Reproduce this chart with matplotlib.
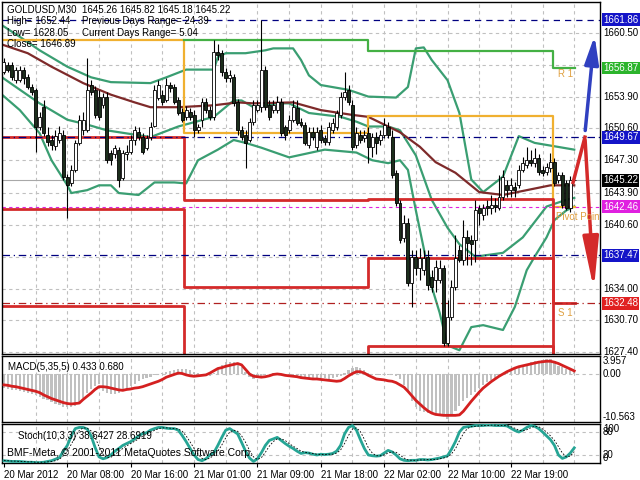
import matplotlib
matplotlib.use('Agg')
import matplotlib.pyplot as plt
import numpy as np

plt.rcParams['font.family'] = ['Liberation Sans', 'DejaVu Sans']
plt.rcParams['font.size'] = 7

# GOLDUSD M30 candles (one per bar)
opens = [1656.5,1657.2,1657.2,1655.6,1655.6,1656.7,1655.9,1654.9,1654.6,1650.8,
         1652.8,1649.9,1649.4,1648.8,1649.4,1649.9,1645.6,1644.9,1646.3,1649.1,
         1650.4,1650.4,1655.1,1654.6,1653.9,1653.0,1653.9,1648.1,1647.9,1648.4,
         1645.5,1647.9,1648.2,1649.4,1650.2,1649.7,
         1648.6,1649.7,1650.9,1653.8,1654.1,1653.5,1655.1,1654.9,1653.5,1652.3,
         1651.8,1652.3,1652.0,1650.4,1651.5,1653.3,1652.5,1651.8,1658.5,1658.4,
         1656.5,1655.8,1655.9,1653.3,1650.4,1649.9,1649.4,1651.3,1652.5,1652.8,
         1656.7,1653.0,1652.5,1652.5,1653.3,1650.7,
         1650.4,1651.5,1652.7,1651.3,1651.0,1648.9,1650.2,1648.7,1650.4,1649.6,
         1649.2,1650.4,1650.7,1652.0,1653.9,1654.6,1653.0,1648.9,1649.9,1649.6,
         1650.1,1648.7,1649.7,1649.4,1649.9,1650.8,1649.7,1646.0,1642.9,1639.2,
         1640.8,1634.6,1637.3,1636.1,1635.9,1637.3,1635.2,1634.9,
         1634.9,1636.1,1628.3,1631.0,1634.2,1638.0,1637.0,1639.3,1639.0,1639.0,
         1642.4,1641.6,1642.6,1642.4,1642.7,1642.4,1643.5,1644.7,1644.2,1644.5,
         1644.7,1646.3,1646.8,1647.3,1647.0,1647.5,1646.3,1646.1,1646.5,1647.1,
         1645.3,1645.8,1644.9,1642.4,1645.26]
highs = [1657.9,1657.5,1657.5,1657.0,1657.1,1657.0,1656.2,1655.2,1654.8,1652.3,
         1653.5,1650.7,1649.9,1650.4,1650.9,1650.4,1645.9,1646.8,1649.4,1652.0,
         1652.3,1657.9,1655.6,1655.0,1654.6,1654.3,1654.4,1648.4,1648.9,1648.7,
         1648.4,1648.9,1649.9,1650.9,1650.8,1650.1,
         1649.9,1651.3,1655.1,1655.6,1654.6,1655.8,1655.4,1655.2,1653.9,1652.7,
         1652.9,1652.7,1652.5,1651.1,1653.8,1653.8,1652.9,1659.8,1659.4,1658.7,
         1656.9,1656.7,1656.2,1653.7,1650.9,1650.4,1651.7,1653.5,1653.5,1661.86,
         1657.1,1653.5,1653.5,1654.0,1653.8,1651.0,
         1652.0,1653.5,1653.5,1651.7,1651.3,1650.8,1650.7,1650.7,1651.0,1649.9,
         1651.3,1651.7,1652.5,1654.4,1656.4,1655.1,1653.5,1650.7,1650.4,1650.4,
         1650.7,1650.1,1650.2,1650.4,1651.7,1651.3,1650.4,1646.3,1643.2,1641.6,
         1641.3,1638.0,1638.0,1638.2,1638.0,1638.0,1635.9,1637.0,
         1637.0,1636.4,1632.8,1634.9,1639.6,1638.5,1641.1,1640.1,1639.6,1643.2,
         1642.7,1642.8,1643.2,1643.7,1643.4,1645.8,1646.3,1645.3,1645.5,1645.0,
         1646.8,1647.6,1648.7,1648.4,1648.6,1647.9,1646.7,1647.0,1648.1,1647.5,
         1646.1,1646.1,1645.3,1645.7,1645.82]
lows = [1656.2,1656.4,1655.6,1655.3,1655.4,1655.2,1654.7,1654.1,1648.2,1650.4,
        1649.8,1648.8,1648.4,1648.4,1649.1,1645.3,1641.3,1644.6,1646.1,1648.9,
        1649.9,1650.2,1654.1,1651.7,1651.5,1652.7,1647.0,1646.8,1647.5,1644.5,
        1645.3,1647.3,1647.9,1648.9,1649.4,1647.9,
        1648.4,1649.4,1650.8,1653.5,1653.0,1653.3,1654.4,1653.1,1652.0,1651.3,
        1651.5,1651.5,1649.7,1650.1,1650.8,1652.2,1651.5,1651.5,1657.7,1656.0,
        1655.4,1655.4,1652.9,1649.9,1649.4,1646.5,1649.2,1651.0,1652.3,1652.3,
        1652.5,1651.5,1652.2,1652.2,1649.8,1649.4,
        1650.1,1651.3,1651.0,1650.7,1648.9,1648.6,1649.4,1648.4,1649.1,1648.9,
        1648.9,1650.1,1650.4,1651.7,1653.5,1653.0,1648.4,1648.6,1649.1,1649.2,
        1647.0,1647.6,1647.9,1648.9,1649.6,1649.6,1645.5,1642.6,1638.7,1638.8,
        1634.3,1632.1,1635.4,1634.9,1635.4,1633.8,1633.6,1633.6,
        1634.6,1628.05,1628.0,1630.7,1633.8,1636.7,1636.4,1636.4,1636.4,1636.7,
        1640.6,1641.1,1641.6,1641.7,1641.9,1642.1,1643.2,1643.5,1643.5,1643.5,
        1644.4,1646.1,1646.5,1646.7,1646.6,1645.8,1645.7,1645.8,1646.1,1644.6,
        1644.9,1642.4,1642.1,1641.9,1645.18]
closes = [1657.5,1656.7,1655.9,1656.7,1656.7,1655.8,1654.9,1654.4,1650.8,1651.8,
          1650.1,1649.2,1648.9,1649.8,1650.1,1645.6,1644.7,1646.3,1649.1,1651.5,
          1651.5,1654.6,1654.4,1652.0,1651.8,1653.9,1647.3,1647.3,1648.6,1645.3,
          1648.1,1648.2,1649.4,1650.4,1649.7,1648.2,
          1649.6,1650.8,1654.6,1655.1,1653.3,1655.1,1654.8,1653.3,1652.2,1651.5,
          1652.5,1651.8,1650.4,1650.8,1653.3,1652.5,1651.8,1658.5,1658.2,1656.4,
          1655.8,1656.1,1653.2,1650.4,1649.7,1649.1,1651.3,1653.0,1653.0,1656.7,
          1652.8,1651.8,1653.0,1653.3,1650.1,1649.9,
          1651.5,1652.8,1651.2,1651.0,1649.1,1650.2,1649.7,1650.2,1649.4,1649.2,
          1650.7,1651.2,1652.2,1653.9,1654.4,1653.3,1648.7,1650.1,1649.4,1649.9,
          1648.7,1649.7,1649.1,1649.9,1651.0,1649.9,1645.8,1642.9,1639.0,1640.8,
          1634.6,1637.3,1636.1,1637.2,1637.2,1634.4,1634.2,1636.2,
          1636.1,1628.3,1631.0,1634.2,1637.2,1637.0,1639.3,1638.7,1638.6,1642.1,
          1641.8,1642.4,1642.3,1642.7,1642.5,1643.5,1645.6,1644.2,1644.7,1644.2,
          1646.3,1647.0,1647.3,1647.0,1647.5,1646.1,1646.0,1646.6,1647.1,1644.9,
          1645.8,1642.7,1642.4,1645.3,1645.22]

# Bollinger bands and moving average (bar, price)
bb_up_bar = [-0.5,4,9,16,22,27,37,41,46,53,54,56,61,66,68,73,75,77,80,87,92,99,102,104,106,108,112,115,118,121,126,130,134,144]
bb_up = [1661.3,1660.1,1658.7,1657.0,1655.9,1655.4,1655.3,1655.9,1656.7,1656.7,1658.0,1658.4,1658.4,1658.7,1658.9,1658.9,1657.7,1656.1,1655.1,1654.6,1653.9,1653.8,1654.9,1658.9,1659.0,1657.7,1655.6,1652.2,1645.3,1644.0,1645.6,1649.8,1649.1,1648.4]
bb_mid_bar = [-0.5,3,9,16,21,26,37,44,53,58,60,63,69,72,77,85,89,92,97,100,104,108,112,115,119,126,131,137,142,144]
bb_mid = [1655.9,1654.9,1653.2,1651.5,1651.0,1650.4,1649.7,1650.8,1651.8,1653.5,1653.5,1652.8,1653.2,1653.2,1652.2,1651.8,1651.3,1650.8,1650.8,1650.4,1647.8,1643.2,1640.3,1638.6,1637.3,1637.7,1639.3,1642.5,1643.2,1643.4]
bb_low_bar = [-0.5,4,9,12,16,17,21,24,27,29,34,38,43,46,49,54,58,61,65,72,81,89,93,97,100,102,104,108,110,112,115,118,121,126,129,132,134,137,139,142,144]
bb_low = [1654.1,1652.5,1650.1,1647.3,1644.7,1643.9,1644.2,1644.7,1644.7,1643.9,1643.7,1645.0,1645.0,1644.9,1647.3,1648.4,1649.4,1649.1,1648.6,1647.6,1648.4,1648.1,1647.3,1647.0,1647.3,1646.3,1642.1,1634.2,1631.5,1628.1,1627.6,1630.0,1630.2,1629.7,1632.1,1635.9,1637.3,1639.3,1641.1,1642.1,1642.5]
ma_bar = [-0.5,6,12,20,27,33,37,44,53,59,63,73,80,88,92,100,105,109,114,120,126,132,138,144]
ma = [1659.3,1658.4,1657.0,1655.3,1654.1,1653.3,1652.8,1652.8,1653.0,1653.3,1653.2,1653.3,1652.5,1652.0,1651.8,1650.2,1648.7,1647.1,1646.0,1644.0,1643.7,1644.2,1644.7,1644.7]

# daily pivot levels
day_edges = [-0.5, 45.5, 92.0, 138.6, 144.3]
pivot = [1659.8, 1650.1, 1651.9, 1642.46]
r1 = [np.nan, 1659.8, 1658.6, 1656.87]
s1 = [1649.7, 1643.2, 1643.3, 1632.48]
s2 = [1642.2, 1634.2, 1637.2, 1624.0]
s3 = [1632.2, 1625.0, 1628.0, 1620.0]

# MACD(5,35,5) histogram and signal
macd_hist = [-3.1,-3.3,-3.5,-3.6,-3.8, -4.0,-4.2,-4.4,-4.6,-5.0, -5.4,-5.8,-6.1,-6.5,-6.9,
             -7.2,-7.3,-7.2,-7.0,-6.6, -5.2,-4.2,-3.2,-2.6,-2.3, -3.8,-4.1,-4.4,-4.5,-4.2,
             -3.8,-3.3,-2.7,-2.2,-1.6, -1.2,-0.9,-0.6,-0.3,-0.1, 0.3,0.5,0.7,0.9,1.0,
             1.1,1.1,0.8,0.5,0.2, 0.0,-0.3,-0.4,0.3,1.1, 2.0,2.6,2.7,2.6,2.5,
             1.5,0.5,-0.6,-1.1,-0.8, -0.5,-0.3,-0.1,0.2,0.0, -0.2,-0.4,-0.4,-0.5,-0.6,
             -0.7,-0.8,-0.9,-0.9,-0.8, -0.8,-0.9,-1.0,-0.9,-0.7, -0.4,0.2,0.9,1.4,1.5,
             1.4,0.8,0.2,-0.2,-0.3, -0.3,-0.3,-0.3,-0.3,-0.5, -1.2,-2.5,-4.0,-5.9,-7.2,
             -8.2,-8.3,-8.5,-8.6,-8.8, -9.0,-9.3,-9.8,-9.0,-8.2, -7.0,-5.9,-5.2,-4.6,-4.0,
             -3.0,-2.5,-1.8,-1.3,-0.8, -0.5,0.0,0.5,1.1,1.5, 1.8,2.0,2.3,2.6,2.8,
             2.9,3.1,3.3,3.3,2.8, 1.8,1.5,1.1,0.8,0.433]
macd_signal = [-2.4,-2.5,-2.7,-2.8,-3.0, -3.2,-3.4,-3.6,-3.8,-4.1, -4.6,-5.0,-5.4,-5.7,-6.0,
               -6.3,-6.5,-6.6,-6.5,-6.4, -5.6,-4.9,-4.2,-3.4,-2.8, -2.8,-2.9,-3.1,-3.3,-3.5,
               -3.6,-3.4,-3.3,-3.1,-3.0, -2.8,-2.5,-2.2,-1.9,-1.6, -1.2,-0.7,-0.4,-0.1,0.2,
               0.1,-0.2,-0.4,-0.5,-0.4, -0.3,-0.2,0.2,0.7,1.2, 1.4,1.7,1.9,2.1,2.3,
               2.0,1.0,0.0,-0.5,-0.6, -0.7,-0.6,-0.4,-0.1,0.0, -0.1,-0.3,-0.4,-0.5,-0.6,
               -0.8,-0.9,-1.0,-1.1,-1.1, -1.2,-1.3,-1.4,-1.5,-1.6, -1.5,-1.0,-0.4,0.1,0.5,
               0.5,0.2,-0.3,-0.7,-1.1, -1.2,-1.3,-1.5,-1.6,-1.9, -2.4,-2.9,-3.8,-4.8,-5.8,
               -6.6,-7.4,-8.1,-8.6,-8.9, -9.0,-9.1,-9.1,-9.1,-9.1, -9.0,-8.2,-7.1,-6.0,-5.0,
               -4.0,-3.1,-2.4,-1.7,-1.1, -0.5,0.0,0.5,0.9,1.3, 1.6,1.8,2.0,2.2,2.4,
               2.6,2.7,2.8,2.8,2.6, 2.3,1.9,1.5,1.1,0.68]

# Stochastic(10,3,3)
stoch_k = [5,4,3,3,3, 2,1,1,0,0, 1,3,5,9,13, 30,45,70,89,92, 92,88,70,40,15,
           10,13,20,30,37, 45,50,55,62,70, 76,78,85,89,92, 92,90,89,89,85,
           71,55,37,20,8, 5,10,20,26,45, 66,85,89,82,75, 53,30,12,3,10,
           26,45,58,62,66, 58,50,43,37,30, 24,26,25,22,20, 22,21,22,24,30,
           45,75,92,97,85, 60,37,20,18,17, 18,25,32,28,20, 10,6,5,6,6,
           8,8,7,8,10, 12,15,18,35,55, 80,92,94,95,97, 97,97,98,98,97,
           97,97,96,90,84, 80,85,92,97,95, 89,80,70,60,45, 20,11,15,25,38.64]
stoch_d = [6,5,4,4,3, 3,2,2,1,1, 1,2,3,5,9, 18,30,48,68,84, 91,90,83,66,42,
           22,13,14,21,29, 37,44,50,56,62, 69,75,80,84,89, 91,91,90,89,88,
           82,70,54,37,22, 11,8,12,19,30, 46,65,80,85,82, 70,53,32,15,8,
           13,27,43,55,62, 62,58,50,43,37, 30,27,25,24,22, 21,21,22,22,25,
           33,50,71,88,91, 81,61,39,25,18, 18,20,25,28,27, 20,12,7,6,6,
           7,7,8,8,8, 10,12,15,23,36, 57,76,89,94,95, 96,97,97,98,98,
           97,97,97,94,90, 85,83,86,91,95, 94,88,80,70,58, 42,25,15,17,28.69]

price_ticks = [1660.50, 1653.90, 1650.60, 1647.30, 1643.90, 1640.60, 1634.00, 1630.70, 1627.40]
hidden_ticks = [1657.20, 1637.30]
time_ticks = [0, 16, 32, 48, 64, 80, 96, 112, 128]
time_labels = ['20 Mar 2012', '20 Mar 08:00', '20 Mar 16:00', '21 Mar 01:00', '21 Mar 09:00',
               '21 Mar 18:00', '22 Mar 02:00', '22 Mar 10:00', '22 Mar 19:00']

GRID = dict(color='#c0c0c0', lw=0.8, ls=(0, (3, 3)), zorder=0)

fig = plt.figure(figsize=(6.4, 4.8), dpi=100)

def panel(top, bottom):
    a = fig.add_axes([2 / 640, 1 - bottom / 480, 598 / 640, (bottom - top) / 480])
    a.set_xlim(-0.5, 150.5)
    a.set_xticks([])
    a.set_yticks([])
    for s in a.spines.values():
        s.set_color('black')
        s.set_linewidth(1)
    for b in range(8, 150, 8):
        a.axvline(b, **GRID)
    return a

ax = panel(2, 354)
axm = panel(356, 422)
axs = panel(424, 463)

# ---- main price panel
ax.set_ylim(1627.21, 1663.71)
for p in price_ticks + hidden_ticks:
    ax.axhline(p, **GRID)

n = len(closes)
x = np.arange(n)
o = np.array(opens); c = np.array(closes); h = np.array(highs); l = np.array(lows)
ax.vlines(x, np.minimum(l, np.minimum(o, c)), np.maximum(h, np.maximum(o, c)), color='black', lw=0.8, zorder=3)
bull = c >= o
body = np.maximum(np.abs(c - o), 0.06)
ax.bar(x[bull], body[bull], bottom=o[bull], width=0.75, color='white', edgecolor='black', lw=0.6, zorder=4)
ax.bar(x[~bull], body[~bull], bottom=c[~bull], width=0.75, color='#1c2e1c', edgecolor='black', lw=0.6, zorder=4)

ax.plot(bb_up_bar, bb_up, color='#3a9e72', lw=1.6, zorder=2)
ax.plot(bb_mid_bar, bb_mid, color='#3a9e72', lw=1.6, zorder=2)
ax.plot(bb_low_bar, bb_low, color='#3a9e72', lw=1.6, zorder=2)
ax.plot(ma_bar, ma, color='#7e2a2a', lw=1.6, zorder=2)

def steps(levels):
    xs, ys = [], []
    for k, v in enumerate(levels):
        xs += [day_edges[k], day_edges[k + 1]]
        ys += [v, v]
    return xs, ys

for lv, col, w in [(pivot, '#f0b030', 1.6), (r1, '#44b044', 1.6),
                   (s1, '#d42a2a', 2.0), (s2, '#d42a2a', 2.0), (s3, '#d42a2a', 2.0)]:
    xs, ys = steps(lv)
    ax.plot(xs, ys, color=col, lw=w, zorder=2)

# horizontal levels
ax.axhline(1661.86, color='#000080', lw=0.9, ls=(0, (5, 4)), zorder=2)
ax.axhline(1649.67, color='#000080', lw=0.9, ls=(0, (6, 3, 1, 3)), zorder=2)
ax.axhline(1637.47, color='#000080', lw=0.9, ls=(0, (6, 3, 1, 3)), zorder=2)
ax.axhline(1632.48, color='#b02020', lw=0.9, ls=(0, (6, 3, 1, 3)), zorder=2)
ax.axhline(1642.46, color='#e020e0', lw=0.8, ls=(0, (3, 3)), zorder=2)
ax.axhline(1645.22, color='#a8a8a8', lw=0.8, zorder=1)

ax.text(140, 1656.2, 'R 1', color='#e0a040', fontsize=7, va='center', zorder=5)
ax.text(140, 1631.5, 'S 1', color='#e0a040', fontsize=7, va='center', zorder=5)
ax.text(139.4, 1641.4, 'Pivot Point', color='#e0a040', fontsize=7, va='center', zorder=5, clip_on=True)

# forecast arrows
ax.annotate('', xy=(149.2, 1660.5), xytext=(146.7, 1650.1),
            arrowprops=dict(arrowstyle='-|>,head_length=1.4,head_width=0.35', color='#3040c0', lw=2.5, mutation_scale=12))
ax.plot([143.7, 146.7], [1645.0, 1649.7], color='#d42a2a', lw=2.5, zorder=5)
ax.annotate('', xy=(149.0, 1633.6), xytext=(146.7, 1649.7),
            arrowprops=dict(arrowstyle='-|>,head_length=2.6,head_width=0.4', color='#d42a2a', lw=2.5, mutation_scale=12))

ytr = ax.get_yaxis_transform()
for p in price_ticks:
    ax.text(1.005, p, f'{p:.2f}', transform=ytr, va='center', ha='left', fontsize=7, clip_on=False)
for p, col in [(1661.86, '#1414c8'), (1656.87, '#2cb42c'), (1649.67, '#1414c8'), (1645.22, 'black'),
               (1642.46, '#e020e0'), (1637.47, '#1414c8'), (1632.48, '#e02020')]:
    ax.text(1.005, p, f'{p:.2f}', transform=ytr, va='center', ha='left', fontsize=7, color='white',
            bbox=dict(boxstyle='square,pad=0.15', fc=col, ec='none'), clip_on=False)

# header
fig.text(7 / 640, 1 - 9 / 480, 'GOLDUSD,M30  1645.26 1645.82 1645.18 1645.22', va='center', fontsize=7)
fig.text(7 / 640, 1 - 21 / 480, 'High= 1652.44', va='center', fontsize=7)
fig.text(82 / 640, 1 - 21 / 480, 'Previous Days Range= 24.39', va='center', fontsize=7)
fig.text(7 / 640, 1 - 33 / 480, 'Low= 1628.05', va='center', fontsize=7)
fig.text(82 / 640, 1 - 33 / 480, 'Current Days Range= 5.04', va='center', fontsize=7)
fig.text(7 / 640, 1 - 44 / 480, 'Close= 1646.89', va='center', fontsize=7)

# ---- MACD panel
axm.set_ylim(-10.563, 3.957)
axm.axhline(0, **GRID)
axm.bar(x, macd_hist, width=0.55, color='#c0c0c0', zorder=2)
axm.plot(x, macd_signal, color='#d42020', lw=2, zorder=3)
axm.text(0.01, 0.84, 'MACD(5,35,5) 0.433 0.680', transform=axm.transAxes, va='center', fontsize=7)
mtr = axm.get_yaxis_transform()
axm.text(1.005, 3.957, '3.957', transform=mtr, va='top', fontsize=7)
axm.text(1.005, 0, '0.00', transform=mtr, va='center', fontsize=7)
axm.text(1.005, -10.563, '-10.563', transform=mtr, va='bottom', fontsize=7)

# ---- Stochastic panel
axs.set_ylim(-1, 101)
axs.axhline(20, **GRID)
axs.axhline(80, **GRID)
axs.plot(x, stoch_k, color='#26a595', lw=2, zorder=3)
axs.plot(x, stoch_d, color='black', lw=0.6, ls=(0, (2, 2)), zorder=3)
axs.text(0.027, 0.7, 'Stoch(10,3,3) 38.6427 28.6919', transform=axs.transAxes, va='center', fontsize=7)
axs.text(0.008, 0.25, 'BMF-Meta, \u00a9 2001-2011 MetaQuotes Software Corp.', transform=axs.transAxes,
         va='center', fontsize=7.5, zorder=5)
str_ = axs.get_yaxis_transform()
axs.text(1.005, 100, '100', transform=str_, va='top', fontsize=7)
axs.text(1.005, 80, '80', transform=str_, va='center', fontsize=7)
axs.text(1.005, 20, '20', transform=str_, va='center', fontsize=7)
axs.text(1.005, 0, '0', transform=str_, va='bottom', fontsize=7)
axs.set_xticks(time_ticks)
axs.set_xticklabels(time_labels, ha='left', fontsize=7)
axs.tick_params(axis='x', length=3, pad=2)

fig.savefig('out.png', dpi=100, facecolor='white')
